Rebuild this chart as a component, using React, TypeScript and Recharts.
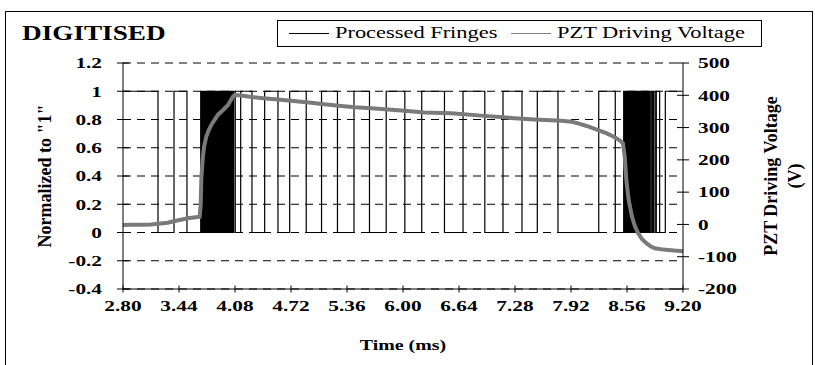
import { LineChart, Line, XAxis, YAxis, CartesianGrid } from 'recharts'

const timeTicks = [2.8, 3.44, 4.08, 4.72, 5.36, 6.0, 6.64, 7.28, 7.92, 8.56, 9.2]
const normTicks = [-0.4, -0.2, 0, 0.2, 0.4, 0.6, 0.8, 1, 1.2]
const voltTicks = [-200, -100, 0, 100, 200, 300, 400, 500]

// time windows (ms) where the digitised fringe signal sits at 1
const fringeHighs: [number, number][] = [
  [2.8, 3.2],
  [3.383, 3.531],
  [3.688, 3.694], [3.7, 3.706], [3.712, 3.718], [3.724, 3.73], [3.736, 3.742],
  [3.748, 3.754], [3.76, 3.767], [3.773, 3.78], [3.786, 3.793], [3.799, 3.806],
  [3.813, 3.82], [3.827, 3.834], [3.841, 3.849], [3.856, 3.864], [3.871, 3.879],
  [3.887, 3.895], [3.903, 3.912], [3.92, 3.929], [3.938, 3.947], [3.957, 3.967],
  [3.977, 3.988], [3.998, 4.008], [4.015, 4.027], [4.04, 4.052], [4.065, 4.083],
  [4.145, 4.274],
  [4.419, 4.571],
  [4.705, 4.894],
  [5.069, 5.251],
  [5.44, 5.617],
  [5.808, 6.021],
  [6.214, 6.474],
  [6.686, 6.935],
  [7.143, 7.36],
  [7.535, 7.771],
  [8.237, 8.426],
  [8.522, 8.528], [8.534, 8.54], [8.546, 8.552], [8.558, 8.564], [8.57, 8.576],
  [8.582, 8.588], [8.594, 8.6], [8.606, 8.612], [8.618, 8.624], [8.63, 8.636],
  [8.642, 8.649], [8.655, 8.662], [8.669, 8.676], [8.684, 8.692], [8.7, 8.708],
  [8.717, 8.726], [8.736, 8.746], [8.757, 8.768], [8.78, 8.792], [8.805, 8.818],
  [8.833, 8.848], [8.862, 8.88],
  [8.895, 8.933],
  [8.998, 9.2],
]

const voltageTimes = [
  2.8, 2.9, 3.0, 3.12, 3.2, 3.31, 3.42, 3.54, 3.676, 3.688, 3.695, 3.71, 3.726,
  3.752, 3.78, 3.809, 3.886, 3.95, 4.0, 4.057, 4.077, 4.15, 4.229, 4.4, 4.571,
  4.75, 4.952, 5.1, 5.295, 5.45, 5.638, 6.019, 6.248, 6.552, 6.895, 7.276, 7.5,
  7.81, 7.93, 8.0, 8.1, 8.229, 8.33, 8.419, 8.48, 8.514, 8.534, 8.552, 8.579,
  8.617, 8.65, 8.686, 8.73, 8.781, 8.83, 8.877, 8.95, 9.029, 9.1, 9.2,
]
const voltageValues = [
  -2, -1, -1, 0, 2, 5, 12, 19, 24, 60, 140, 200, 240,
  272, 292, 308, 340, 356, 370, 396, 401, 399, 396, 391, 387,
  382, 377, 372, 367, 363, 360, 352, 347, 344, 337, 329, 325,
  321, 318, 313, 305, 292, 282, 270, 260, 251, 210, 138, 76,
  24, -5, -27, -45, -58, -68, -74, -77, -79, -81, -83,
]

const fringeData: { t: number; fringe: number }[] = []
fringeHighs.forEach(([a, b]) => {
  fringeData.push({ t: a, fringe: 1 })
  fringeData.push({ t: b, fringe: b >= 9.2 ? 1 : 0 })
})
const voltageData = voltageTimes.map((t, i) => ({ t, volt: voltageValues[i] }))

const serif = "'Liberation Serif', 'Times New Roman', serif"
const SX = 1.42

function TimeTick({ x, y, payload }: any) {
  return (
    <text transform={`translate(${x},${y}) scale(${SX},1)`} textAnchor="middle" dy="0.75em"
      fontFamily={serif} fontWeight="bold" fontSize={15} fill="#000">
      {Number(payload.value).toFixed(2)}
    </text>
  )
}

function NormTick({ x, y, payload }: any) {
  return (
    <text transform={`translate(${x},${y}) scale(${SX},1)`} textAnchor="end" dy="0.35em"
      fontFamily={serif} fontWeight="bold" fontSize={15} fill="#000">
      {String(Math.round(payload.value * 10) / 10)}
    </text>
  )
}

function VoltTick({ x, y, payload }: any) {
  return (
    <text transform={`translate(${x},${y}) scale(${SX},1)`} textAnchor="start" dy="0.35em"
      fontFamily={serif} fontWeight="bold" fontSize={15} fill="#000">
      {payload.value}
    </text>
  )
}

function SideTitle({ viewBox, at, lines }: any) {
  const cy = viewBox.y + viewBox.height / 2
  return (
    <g>
      {lines.map((s: string, i: number) => {
        const cx = viewBox.x + at + i * 24
        return (
          <text key={i} transform={`translate(${cx},${cy}) rotate(-90)`} textAnchor="middle" dy="0.35em"
            fontFamily={serif} fontWeight="bold" fontSize={18} fill="#000">
            {s}
          </text>
        )
      })}
    </g>
  )
}

function BottomTitle({ viewBox }: any) {
  const cx = viewBox.x + viewBox.width / 2
  return (
    <text transform={`translate(${cx},${viewBox.y + 61}) scale(${SX},1)`} textAnchor="middle"
      fontFamily={serif} fontWeight="bold" fontSize={14} fill="#000">
      Time (ms)
    </text>
  )
}

const legendText = {
  position: 'absolute' as const,
  top: 2,
  fontFamily: serif,
  fontSize: 16,
  lineHeight: '20px',
  transform: 'scaleX(1.4)',
  transformOrigin: 'left center',
  whiteSpace: 'nowrap' as const,
}

export default function App() {
  return (
    <div style={{ position: 'absolute', left: 0, top: 0, width: 815, height: 365, overflow: 'hidden', background: '#fff' }}>
      <div style={{ position: 'absolute', left: 5, top: 11, width: 806, height: 400, border: '1px solid #000' }} />
      <div style={{ position: 'absolute', left: 22, top: 21, fontFamily: serif, fontWeight: 'bold', fontSize: 20,
        lineHeight: '24px', transform: 'scaleX(1.36)', transformOrigin: 'left center', whiteSpace: 'nowrap' }}>
        DIGITISED
      </div>
      <div style={{ position: 'absolute', left: 277, top: 20, width: 483, height: 25, border: '1px solid #000', background: '#fff' }}>
        <div style={{ position: 'absolute', left: 11, top: 12, width: 40, borderTop: '1.5px solid #000' }} />
        <div style={{ ...legendText, left: 57 }}>Processed Fringes</div>
        <div style={{ position: 'absolute', left: 233, top: 12, width: 40, borderTop: '1.5px solid #808080' }} />
        <div style={{ ...legendText, left: 279 }}>PZT Driving Voltage</div>
      </div>
      <div style={{ position: 'absolute', left: 0, top: 0 }}>
        <LineChart width={815} height={365} margin={{ top: 63, right: 0, bottom: 0, left: 0 }}>
          <CartesianGrid yAxisId="norm" vertical={false} stroke="#000" strokeDasharray="8 6" />
          <XAxis dataKey="t" type="number" domain={[2.8, 9.2]} ticks={timeTicks} allowDataOverflow
            height={76} stroke="#000" tickSize={7} tickMargin={4}
            tickLine={{ stroke: '#000', transform: 'translate(0,-3.5)' }}
            tick={<TimeTick />} label={<BottomTitle />} />
          <YAxis yAxisId="norm" orientation="left" domain={[-0.4, 1.2]} ticks={normTicks} allowDataOverflow
            width={123} stroke="#000" tickSize={12} tickMargin={9}
            tickLine={{ stroke: '#000', transform: 'translate(6,0)' }}
            tick={<NormTick />} label={<SideTitle at={45} lines={['Normalized to "1"']} />} />
          <YAxis yAxisId="volt" orientation="right" domain={[-200, 500]} ticks={voltTicks} allowDataOverflow
            width={132} stroke="#000" tickSize={12} tickMargin={3}
            tickLine={{ stroke: '#000', transform: 'translate(-6,0)' }}
            tick={<VoltTick />} label={<SideTitle at={88} lines={['PZT Driving Voltage', '(V)']} />} />
          <Line data={fringeData} dataKey="fringe" yAxisId="norm" type="stepAfter" stroke="#000"
            strokeWidth={1.2} dot={false} activeDot={false} isAnimationActive={false} />
          <Line data={voltageData} dataKey="volt" yAxisId="volt" type="linear" stroke="#7a7a7a"
            strokeWidth={4} dot={false} activeDot={false} isAnimationActive={false} />
        </LineChart>
      </div>
    </div>
  )
}
